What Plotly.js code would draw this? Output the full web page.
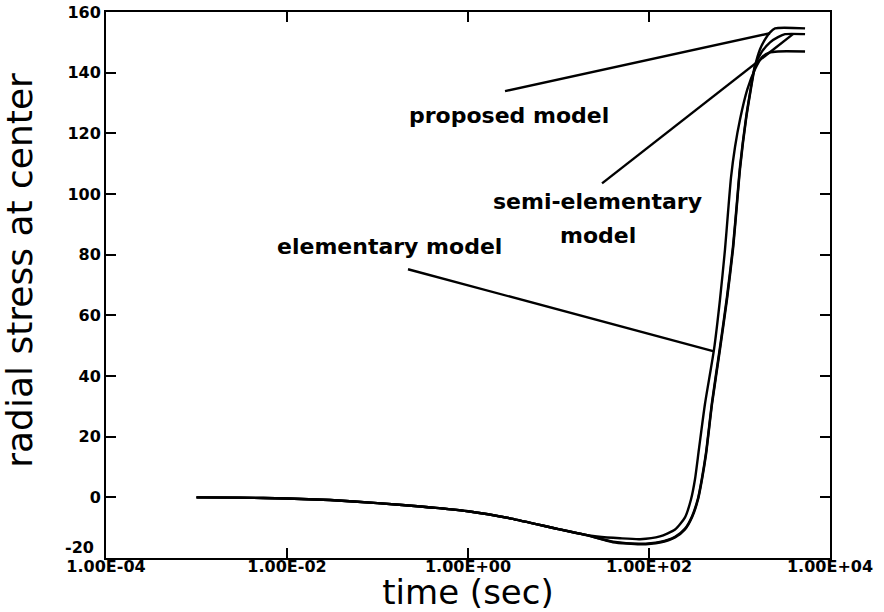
<!DOCTYPE html>
<html>
<head>
<meta charset="utf-8">
<script src="https://cdn.plot.ly/plotly-3.0.1.min.js"></script>
<style>
  html, body { margin: 0; padding: 0; background: #fff; }
  #chart { width: 884px; height: 612px; }
</style>
</head>
<body>
<div id="chart"></div>
<script>
// Radial stress at the centre versus time for three models.
// Early part of the response, common to all three models.
const timeShared   = [0.001, 0.003, 0.01, 0.03, 0.1, 0.3, 1, 3, 10, 20];
const stressShared = [0, -0.1, -0.4, -0.9, -1.9, -3.0, -4.6, -7.0, -10.5, -12.4];

// Proposed model
const timeProposed   = [40, 80, 132, 194, 250, 299, 348, 385, 427, 497, 609, 728, 848, 938, 1013, 1181, 1307, 1484, 1686, 1915, 2175, 2468, 5300];
const stressProposed = [-14.8, -15.5, -14.9, -13.2, -10.6, -6.6, -0.7, 5.9, 14.2, 30.7, 48.8, 65.3, 81.8, 96.6, 108.2, 124.6, 132.9, 142.1, 147.7, 151.0, 153.3, 154.6, 154.6];

// Semi-elementary model
const timeSemi   = [40, 80, 132, 194, 250, 299, 348, 385, 427, 497, 609, 728, 848, 938, 1013, 1181, 1307, 1484, 1775, 2175, 2663, 3184, 5300];
const stressSemi = [-14.6, -15.3, -14.7, -13.0, -10.3, -6.2, -0.3, 6.4, 14.8, 31.4, 49.6, 66.2, 82.8, 97.5, 109.0, 125.2, 133.4, 142.3, 147.0, 150.0, 151.7, 152.7, 152.7];

// Elementary model
const timeElem   = [26.6, 47.9, 79.6, 132, 194, 250, 291, 322, 356, 415, 523, 609, 692, 747, 806, 892, 1013, 1220, 1484, 1775, 2175, 2663, 5300];
const stressElem = [-12.9, -13.5, -13.8, -12.9, -10.6, -6.6, -0.7, 5.9, 15.8, 30.7, 48.8, 65.3, 81.8, 94.0, 105.5, 115.5, 124.6, 134.5, 141.1, 145.1, 146.7, 147.0, 147.0];

// Axis ticks (the bottom value's label is set a little higher, as its own text)
const xTickVals  = [1e-4, 1e-2, 1, 1e2, 1e4];
const xTickText  = ['1.00E-04', '1.00E-02', '1.00E+00', '1.00E+02', '1.00E+04'];
const yTickVals  = [-20, 0, 20, 40, 60, 80, 100, 120, 140, 160];
const yTickText  = ['', '0', '20', '40', '60', '80', '100', '120', '140', '160'];
const yBottomLabel = '-20';

// Leader lines from each label to its curve: [time, stress] pairs
const leaderProposed = { t: [10 ** 0.409, 10 ** 3.337], s: [133.9, 153.0] };
const leaderSemi     = { t: [10 ** 1.481, 10 ** 3.591], s: [103.5, 152.7] };
const leaderElem     = { t: [10 ** -0.663, 10 ** 2.718], s: [75.2, 48.1] };

const curveLine = { color: '#000', width: 2.4, shape: 'spline', smoothing: 0.6 };

function curve(tTail, sTail) {
  return {
    x: timeShared.concat(tTail),
    y: stressShared.concat(sTail),
    mode: 'lines', line: curveLine, hoverinfo: 'skip', showlegend: false
  };
}
function leader(seg) {
  return {
    x: seg.t, y: seg.s, mode: 'lines',
    line: { color: '#000', width: 2.4 }, hoverinfo: 'skip', showlegend: false
  };
}

const traces = [
  curve(timeProposed, stressProposed),
  curve(timeSemi, stressSemi),
  curve(timeElem, stressElem),
  leader(leaderProposed),
  leader(leaderSemi),
  leader(leaderElem)
];

const labelFont = { family: 'DejaVu Sans', size: 22, color: '#000', weight: 'bold' };
const tickFont  = { family: 'DejaVu Sans', size: 16, color: '#000', weight: 'bold' };

const axisCommon = {
  showline: true, linecolor: '#000', linewidth: 2, mirror: 'ticks',
  ticks: 'inside', ticklen: 10, tickwidth: 2, tickcolor: '#000',
  showgrid: false, zeroline: false, tickfont: tickFont
};

const layout = {
  width: 884, height: 612,
  margin: { l: 106, r: 54, t: 12, b: 54 },
  paper_bgcolor: '#fff', plot_bgcolor: '#fff',
  xaxis: Object.assign({}, axisCommon, {
    type: 'log', range: [-4, 4],
    tickvals: xTickVals, ticktext: xTickText,
    ticklabelstandoff: -7,
    title: { text: 'time (sec)', font: { family: 'DejaVu Sans', size: 34, color: '#000' }, standoff: 5 }
  }),
  yaxis: Object.assign({}, axisCommon, {
    range: [-20, 160], tickvals: yTickVals, ticktext: yTickText,
    ticklabelstandoff: 0
  }),
  annotations: [
    // vertical axis title
    { x: 0, y: 0.526, xref: 'paper', yref: 'paper', xanchor: 'center', yanchor: 'middle',
      xshift: -86, textangle: -90, text: 'radial stress at center', showarrow: false,
      font: { family: 'DejaVu Sans', size: 36, color: '#000' } },
    // label of the lowest y tick
    { x: 0, y: -20, xref: 'paper', yref: 'y', xanchor: 'right', yanchor: 'middle',
      xshift: -10, yshift: 11, text: yBottomLabel, showarrow: false, font: tickFont },
    { x: 0.453, y: 125.9, xref: 'x', yref: 'y', text: 'proposed model', showarrow: false, font: labelFont },
    { x: 1.436, y: 97.6, xref: 'x', yref: 'y', text: 'semi-elementary', showarrow: false, font: labelFont },
    { x: 1.436, y: 86.2, xref: 'x', yref: 'y', text: 'model', showarrow: false, font: labelFont },
    { x: -0.862, y: 82.8, xref: 'x', yref: 'y', text: 'elementary model', showarrow: false, font: labelFont }
  ]
};

Plotly.newPlot('chart', traces, layout, { staticPlot: true, displayModeBar: false });
</script>
</body>
</html>
